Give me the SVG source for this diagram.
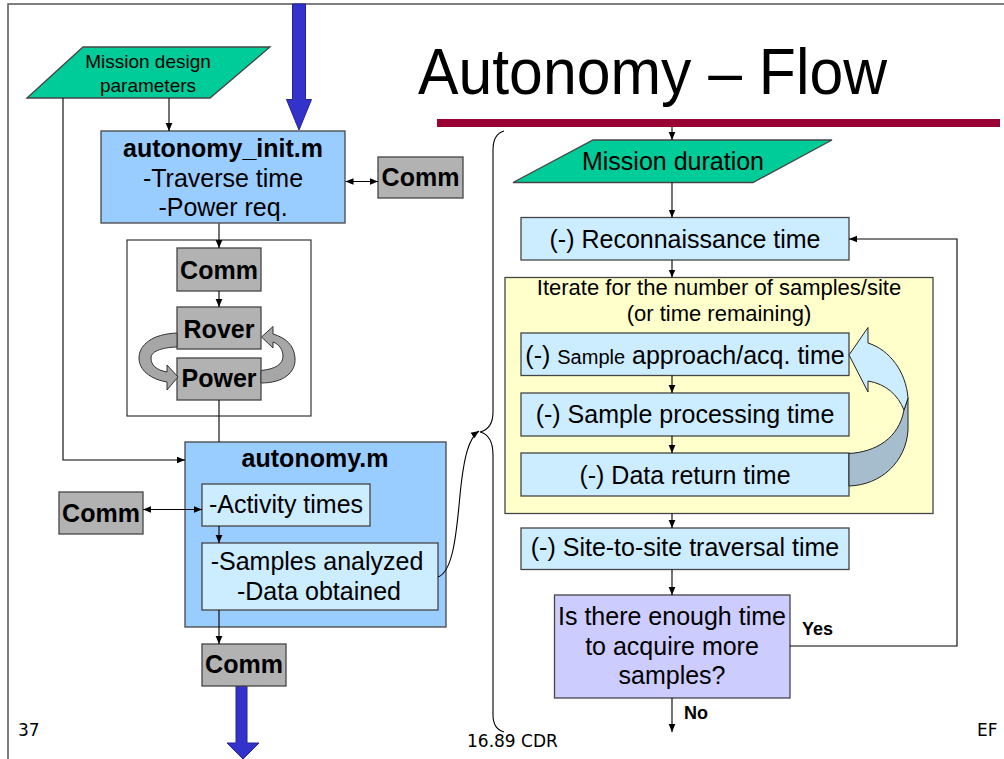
<svg xmlns="http://www.w3.org/2000/svg" width="1004" height="759" viewBox="0 0 1004 759">
<defs>
<marker id="ah" viewBox="0 0 10 10" refX="10" refY="5" markerWidth="8" markerHeight="8" markerUnits="userSpaceOnUse" orient="auto-start-reverse"><path d="M0,0.8 L10,5 L0,9.2 z" fill="#000"/></marker>
<style>
.t{font-family:"Liberation Sans",Arial,sans-serif;fill:#000}
.b{font-weight:bold}
.f25{font-size:25px}
.box{stroke:#454545;stroke-width:1.3}
.blue{fill:#99CCFF}
.lb{fill:#CCECFF}
.gray{fill:#B2B2B2}
.green{fill:#00CC99}
.conn line,.conn path,.conn polyline{stroke:#000;stroke-width:1.1;fill:none}
.ft{font-family:"DejaVu Sans",Verdana,sans-serif;font-size:17px;fill:#000}
</style>
</defs>
<rect width="1004" height="759" fill="#fff"/>
<!-- slide frame -->
<polyline points="8,759 8,4 1004,4" fill="none" stroke="#555" stroke-width="1.5"/>
<!-- title -->
<text class="t" x="418" y="94" font-size="64" textLength="469" lengthAdjust="spacingAndGlyphs">Autonomy – Flow</text>
<rect x="437" y="119" width="563" height="8" fill="#990033"/>

<!-- big blue arrows -->
<g id="blue-arrow-top"><path d="M292.5,4 L305.5,4 L305.5,99.5 L311.5,99.5 L299,130 L286.5,99.5 L292.5,99.5 Z" fill="#3333CC" stroke="#22229A" stroke-width="1"/></g>
<g id="blue-arrow-bottom"><path d="M236,686 L247,686 L247,743 L259,743 L243,759 L227,743 L236,743 Z" fill="#3333CC" stroke="#22229A" stroke-width="1"/></g>

<g id="mission-design-parameters">
<polygon class="box green" points="27,98 83,47 270,47 210,98"/>
<text class="t" x="148" y="68" font-size="19" text-anchor="middle">Mission design</text>
<text class="t" x="148" y="92" font-size="19" text-anchor="middle">parameters</text>
</g>

<g id="autonomy-init">
<rect class="box blue" x="101" y="131" width="244" height="92"/>
<text class="t b f25" x="223" y="157" text-anchor="middle">autonomy_init.m</text>
<text class="t f25" x="223" y="187" text-anchor="middle">-Traverse time</text>
<text class="t f25" x="223" y="216" text-anchor="middle">-Power req.</text>
</g>

<g id="comm-init">
<rect class="box gray" x="378" y="157" width="85" height="41"/>
<text class="t b f25" x="420.5" y="186" text-anchor="middle">Comm</text>
</g>

<g id="subsystem-group">
<rect x="127" y="240" width="184" height="176" fill="#fff" stroke="#222" stroke-width="1.1"/>
</g>
<g id="comm-inner">
<rect class="box gray" x="177" y="248" width="84" height="43"/>
<text class="t b f25" x="219" y="279" text-anchor="middle">Comm</text>
</g>
<g id="rover">
<rect class="box gray" x="177" y="307" width="84" height="42"/>
<text class="t b f25" x="219" y="338" text-anchor="middle">Rover</text>
</g>
<g id="power">
<rect class="box gray" x="177" y="358" width="84" height="42"/>
<text class="t b f25" x="219" y="387" text-anchor="middle">Power</text>
</g>
<g id="rover-power-cycle">
<path d="M177,333 C152,334 139,345 139,358 C139,370 150,379 167,382 L167,390 L178,377 L167,365 L167,372 C156,370 151,365 151,358 C151,352 160,347.5 177,347 Z" fill="#A6A6A6" stroke="#333" stroke-width="1"/>
<path d="M261,383 C284,383 296,372 295,358 C294,345 286,338 273,334 L273,326.5 L261.5,337 L273,348 L273,342 C279,344 283,350 283,356 C283,364 276,369 261,370.5 Z" fill="#A6A6A6" stroke="#333" stroke-width="1"/>
</g>

<g id="autonomy-m">
<rect class="box blue" x="185" y="442" width="261" height="185"/>
<text class="t b f25" x="315" y="467" text-anchor="middle">autonomy.m</text>
</g>
<g id="activity-times">
<rect class="box lb" x="202" y="484" width="168" height="42"/>
<text class="t f25" x="286" y="513" text-anchor="middle">-Activity times</text>
</g>
<g id="samples-data">
<rect class="box lb" x="202" y="543" width="236" height="67"/>
<text class="t f25" x="317" y="570" text-anchor="middle">-Samples analyzed</text>
<text class="t f25" x="319" y="600" text-anchor="middle">-Data obtained</text>
</g>
<g id="comm-left">
<rect class="box gray" x="59" y="492" width="84" height="42"/>
<text class="t b f25" x="101" y="522" text-anchor="middle">Comm</text>
</g>
<g id="comm-bottom">
<rect class="box gray" x="202" y="644" width="84" height="42"/>
<text class="t b f25" x="244" y="673" text-anchor="middle">Comm</text>
</g>

<!-- right panel -->
<g id="mission-duration">
<polygon class="box green" points="513,182.5 593,140 832,140 753,182.5"/>
<text class="t f25" x="673" y="170" text-anchor="middle">Mission duration</text>
</g>
<g id="reconnaissance">
<rect class="box lb" x="521" y="217.5" width="328" height="42.5"/>
<text class="t f25" x="685" y="248" text-anchor="middle">(-) Reconnaissance time</text>
</g>
<g id="iterate-loop">
<rect class="box" fill="#FFFFCC" x="505" y="277.5" width="428" height="236"/>
<text class="t" x="719" y="295" font-size="22" text-anchor="middle">Iterate for the number of samples/site</text>
<text class="t" x="719" y="321" font-size="22" text-anchor="middle">(or time remaining)</text>
</g>
<g id="sample-approach">
<rect class="box lb" x="521" y="333" width="328" height="42.5"/>
<text class="t" x="685" y="364" font-size="25" text-anchor="middle">(-) <tspan font-size="20">Sample</tspan> approach/acq. time</text>
</g>
<g id="sample-processing">
<rect class="box lb" x="521" y="393" width="328" height="43"/>
<text class="t f25" x="685" y="423" text-anchor="middle">(-) Sample processing time</text>
</g>
<g id="data-return">
<rect class="box lb" x="521" y="453" width="328" height="43"/>
<text class="t f25" x="685" y="483.5" text-anchor="middle">(-) Data return time</text>
</g>
<g id="loop-arrow">
<path d="M908,398 L908,430 C906,462 881,485 849,486 L849,453.5 C876,452 899,438 904,410 Z" fill="#A6BDCD" stroke="#222" stroke-width="1"/>
<path d="M868,343 C890,350 906,372 908,398 L904,410 C898,395 886,384 868,381 L868,392 L849,355 L868,327.5 Z" fill="#CCECFF" stroke="#222" stroke-width="1"/>
</g>
<g id="site-traversal">
<rect class="box lb" x="521" y="528" width="328" height="41.5"/>
<text class="t f25" x="685" y="556" text-anchor="middle">(-) Site-to-site traversal time</text>
</g>
<g id="decision">
<rect class="box" fill="#CCCCFF" x="554.5" y="595" width="235.5" height="103"/>
<text class="t f25" x="672" y="625" text-anchor="middle">Is there enough time</text>
<text class="t f25" x="672" y="655" text-anchor="middle">to acquire more</text>
<text class="t f25" x="672" y="684" text-anchor="middle">samples?</text>
</g>

<g class="conn" id="connectors">
<line x1="169" y1="98" x2="169" y2="131" marker-end="url(#ah)"/>
<polyline points="63,98 63,460 185,460" marker-end="url(#ah)"/>
<line x1="345.5" y1="181.5" x2="378" y2="181.5" marker-start="url(#ah)" marker-end="url(#ah)"/>
<line x1="219" y1="223.5" x2="219" y2="248" marker-end="url(#ah)"/>
<line x1="219" y1="291" x2="219" y2="307" marker-end="url(#ah)"/>
<line x1="219" y1="400" x2="219" y2="442"/>
<line x1="143" y1="509.5" x2="202" y2="509.5" marker-start="url(#ah)" marker-end="url(#ah)"/>
<line x1="219" y1="526" x2="219" y2="543" marker-end="url(#ah)"/>
<line x1="219" y1="610" x2="219" y2="644" marker-end="url(#ah)"/>
<path d="M438,577 C452,572 456,540 460,495 C464,455 469,438 479,431" marker-end="url(#ah)"/>
<path d="M504,131 C497,133 493,140 493,150 L493,412 C493,424 488,430 480,432 C488,434 493,441 493,455 L493,715 C493,725 497,730 504,732"/>
<line x1="672" y1="127" x2="672" y2="140" marker-end="url(#ah)"/>
<line x1="672" y1="182.5" x2="672" y2="217.5" marker-end="url(#ah)"/>
<line x1="672" y1="260" x2="672" y2="277.5" marker-end="url(#ah)"/>
<line x1="672" y1="375.5" x2="672" y2="393" marker-end="url(#ah)"/>
<line x1="672" y1="436" x2="672" y2="453" marker-end="url(#ah)"/>
<line x1="672" y1="513.5" x2="672" y2="528" marker-end="url(#ah)"/>
<line x1="672" y1="569.5" x2="672" y2="595" marker-end="url(#ah)"/>
<polyline points="790,646 957,646 957,239 849,239" marker-end="url(#ah)"/>
<line x1="672" y1="698" x2="672" y2="732" marker-end="url(#ah)"/>
</g>
<text class="t b" x="802" y="635" font-size="18">Yes</text>
<text class="t b" x="684" y="719" font-size="18">No</text>

<!-- footer -->
<text class="ft" x="18" y="736">37</text>
<text class="ft" x="467" y="747">16.89 CDR</text>
<text class="ft" x="977" y="736">EF</text>
</svg>
